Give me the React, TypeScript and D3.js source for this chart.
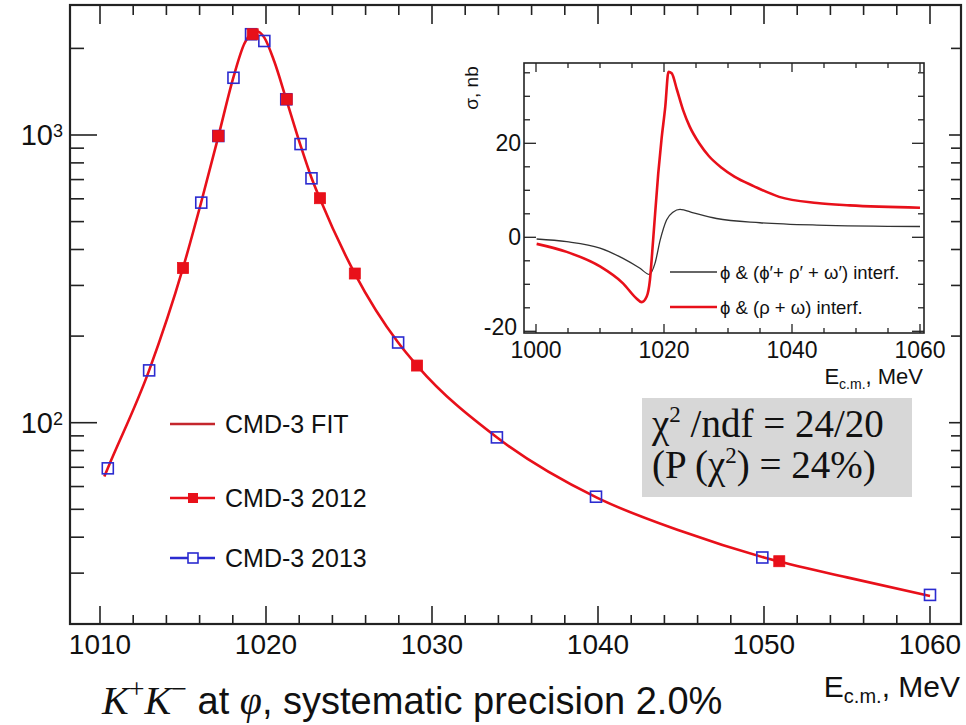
import React from 'react';
import * as d3 from 'd3';

const W = 966;
const H = 725;

// ---- Main panel: e+e- -> K+K- cross section near the phi, nb (log scale) ----
const fitEnergy = [1010.26, 1010.47, 1012.96, 1015.0, 1016.1, 1017.15, 1018.04, 1018.7, 1019.2, 1019.45, 1019.9, 1020.5, 1021.22, 1022.08, 1022.74, 1023.25, 1025.35, 1027.96, 1029.1, 1033.9, 1039.9, 1045.0, 1050.0, 1055.0, 1060.0];
const fitSigma = [65, 69.5, 152, 345, 585, 1000, 1590, 2080, 2270, 2295, 2180, 1800, 1330, 920, 710, 600, 330, 190, 158, 89, 55, 42, 34, 29, 25];

const energy2012 = [1015.0, 1017.13, 1019.2, 1021.25, 1023.25, 1025.35, 1029.1, 1050.92];
const sigma2012 = [345, 992, 2240, 1331, 603, 330, 158, 33.0];

const energy2013 = [1010.47, 1012.96, 1016.1, 1017.13, 1018.04, 1019.1, 1019.9, 1021.22, 1022.08, 1022.74, 1027.96, 1033.91, 1039.88, 1049.9, 1060.0];
const sigma2013 = [69.4, 152, 582, 992, 1581, 2240, 2122, 1331, 930, 707, 190, 88.9, 55.3, 34.0, 25.2];

const mainXTicks = [1010, 1020, 1030, 1040, 1050, 1060];
const mainYDecades = [2, 3];
const legendLabels = ['CMD-3 FIT', 'CMD-3 2012', 'CMD-3 2013'];

// ---- Inset: interference contributions, nb ----
const insetRedEnergy = [1000.1, 1004.8, 1010.0, 1013.6, 1015.7, 1016.5, 1017.3, 1017.8, 1018.3, 1019.1, 1019.6, 1020.2, 1020.7, 1021.2, 1022.0, 1023.0, 1024.0, 1025.5, 1027.0, 1029.0, 1031.0, 1034.0, 1038.0, 1043.9, 1049.0, 1060.0];
const insetRedSigma = [-1.4, -3.1, -6.2, -9.8, -13.0, -13.8, -12.6, -9.1, -0.6, 13.6, 20.7, 27.8, 35.2, 34.9, 31.5, 27.0, 23.6, 20.0, 17.3, 14.8, 12.9, 10.9, 8.6, 7.3, 6.8, 6.3];
const insetBlackEnergy = [1000.1, 1004.8, 1010.0, 1013.6, 1016.25, 1017.7, 1018.6, 1019.4, 1020.4, 1021.45, 1022.5, 1024.6, 1028.2, 1035.0, 1043.9, 1060.0];
const insetBlackSigma = [-0.36, -0.93, -2.3, -4.5, -6.6, -7.9, -5.5, -0.6, 3.7, 5.4, 5.96, 5.2, 4.0, 3.1, 2.6, 2.3];
const insetXTicks = [1000, 1020, 1040, 1060];
const insetYTicks = [-20, 0, 20];
const insetLegend = ['\u03D5 & (\u03D5\u2032+ \u03C1\u2032 + \u03C9\u2032) interf.', '\u03D5 & (\u03C1 + \u03C9) interf.'];

// ---- Layout ----
const frame = { left: 70, right: 961, top: 5, bottom: 624 };
const inset = { left: 524, right: 924, top: 63, bottom: 333 };
const SANS = '"Liberation Sans", Arial, Helvetica, sans-serif';
const SERIF = '"Liberation Serif", "Times New Roman", serif';
const INK = '#222';
const RED = '#e8101a';
const BLUE = '#2b2bd0';

export default function App() {
  const x = d3.scaleLinear().domain([1010, 1060]).range([100, 930]);
  const y = d3.scaleLog().domain([100, 1000]).range([422.7, 135]);

  const xi = d3.scaleLinear().domain([1000, 1060]).range([536, 920]);
  const yi = d3.scaleLinear().domain([0, 20]).range([237.3, 143.3]);

  const fitLine = d3
    .line<number>()
    .x((_, i) => x(fitEnergy[i]))
    .y((s) => y(s))
    .curve(d3.curveMonotoneX);

  const insetLine = (es: number[]) =>
    d3
      .line<number>()
      .x((_, i) => xi(es[i]))
      .y((s) => yi(s))
      .curve(d3.curveMonotoneX);

  // minor ticks
  const xMinor = d3.range(1010, 1061, 2).filter((v) => v % 10 !== 0);
  const yMinor: number[] = [];
  for (const d of [1, 2, 3]) {
    for (let m = 2; m <= 9; m++) {
      const v = m * Math.pow(10, d);
      if (y(v) >= frame.top && y(v) <= frame.bottom + 0.5) yMinor.push(v);
    }
  }
  const ixMinor = d3.range(1000, 1061, 5).filter((v) => v % 20 !== 0);
  const iyMinor = d3.range(-20, 36, 5).filter((v) => v % 20 !== 0);

  const sq = 11;
  const sqB = 11;

  return (
    <svg
      width={W}
      height={H}
      viewBox={`0 0 ${W} ${H}`}
      style={{ position: 'absolute', left: 0, top: 0, display: 'block', background: '#fff' }}
    >
      <rect x={0} y={0} width={W} height={H} fill="#fff" />

      {/* main frame */}
      <rect
        x={frame.left}
        y={frame.top}
        width={frame.right - frame.left}
        height={frame.bottom - frame.top}
        fill="none"
        stroke={INK}
        strokeWidth={2.2}
      />

      {/* x ticks, bottom and top */}
      <g stroke={INK} strokeWidth={1.6}>
        {mainXTicks.map((t) => (
          <g key={'mx' + t}>
            <line x1={x(t)} x2={x(t)} y1={frame.bottom} y2={frame.bottom - 18} />
            <line x1={x(t)} x2={x(t)} y1={frame.top} y2={frame.top + 19} />
          </g>
        ))}
        {xMinor.map((t) => (
          <g key={'mxm' + t}>
            <line x1={x(t)} x2={x(t)} y1={frame.bottom} y2={frame.bottom - 9} />
            <line x1={x(t)} x2={x(t)} y1={frame.top} y2={frame.top + 10} />
          </g>
        ))}
        {mainYDecades.map((d) => (
          <g key={'my' + d}>
            <line x1={frame.left} x2={frame.left + 27} y1={y(Math.pow(10, d))} y2={y(Math.pow(10, d))} />
            <line x1={frame.right} x2={frame.right - 12} y1={y(Math.pow(10, d))} y2={y(Math.pow(10, d))} />
          </g>
        ))}
        {yMinor.map((v) => (
          <g key={'mym' + v}>
            <line x1={frame.left} x2={frame.left + 14} y1={y(v)} y2={y(v)} />
            <line x1={frame.right} x2={frame.right - 10} y1={y(v)} y2={y(v)} />
          </g>
        ))}
      </g>

      {/* x tick labels */}
      <g fontFamily={SANS} fontSize={28} fill="#111" textAnchor="middle">
        {mainXTicks.map((t) => (
          <text key={'mxl' + t} x={x(t)} y={654}>
            {t}
          </text>
        ))}
      </g>
      {/* y tick labels */}
      <g fontFamily={SANS} fill="#111" textAnchor="end">
        {mainYDecades.map((d) => (
          <text key={'myl' + d} x={63} y={y(Math.pow(10, d)) + 10} fontSize={29}>
            10
            <tspan dy={-8} fontSize={18}>
              {d}
            </tspan>
          </text>
        ))}
      </g>

      {/* fit curve */}
      <path d={fitLine(fitSigma) || ''} fill="none" stroke={RED} strokeWidth={2.6} />

      {/* 2013 data: open blue squares */}
      <g fill="none" stroke={BLUE} strokeWidth={1.6}>
        {energy2013.map((e, i) => (
          <rect key={'b' + i} x={x(e) - sqB / 2} y={y(sigma2013[i]) - sqB / 2} width={sqB} height={sqB} />
        ))}
      </g>
      {/* 2012 data: filled red squares */}
      <g fill={RED} stroke={RED} strokeWidth={0.8}>
        {energy2012.map((e, i) => (
          <rect key={'r' + i} x={x(e) - sq / 2} y={y(sigma2012[i]) - sq / 2} width={sq} height={sq} />
        ))}
      </g>

      {/* legend */}
      <g fontFamily={SANS} fontSize={25} fill="#111">
        <line x1={170} x2={215} y1={424} y2={424} stroke="#c4262c" strokeWidth={2.6} />
        <text x={225} y={433}>{legendLabels[0]}</text>
        <line x1={170} x2={215} y1={498} y2={498} stroke={RED} strokeWidth={2.6} />
        <rect x={193 - 5} y={498 - 5} width={10} height={10} fill={RED} />
        <text x={225} y={507}>{legendLabels[1]}</text>
        <line x1={170} x2={215} y1={558} y2={558} stroke={BLUE} strokeWidth={2.6} />
        <rect x={193 - 5} y={558 - 5} width={10} height={10} fill="#fff" stroke={BLUE} strokeWidth={1.6} />
        <text x={225} y={567}>{legendLabels[2]}</text>
      </g>

      {/* chi2 box */}
      <rect x={642} y={398} width={270} height={99} fill="#d7d7d7" />
      <g fontFamily={SERIF} fontSize={39} fill="#111">
        <text x={652} y={437}>
          {'\u03C7'}
          <tspan dy={-15} fontSize={23}>
            2
          </tspan>
          <tspan dy={15}>{' /ndf = 24/20'}</tspan>
        </text>
        <text x={652} y={478}>
          {'(P (\u03C7'}
          <tspan dy={-15} fontSize={23}>
            2
          </tspan>
          <tspan dy={15}>{') = 24%)'}</tspan>
        </text>
      </g>

      {/* ---------------- inset ---------------- */}
      <rect
        x={inset.left}
        y={inset.top}
        width={inset.right - inset.left}
        height={inset.bottom - inset.top}
        fill="#fff"
        stroke={INK}
        strokeWidth={1.6}
      />
      <g stroke={INK} strokeWidth={1.3}>
        {insetXTicks.map((t) => (
          <g key={'ix' + t}>
            <line x1={xi(t)} x2={xi(t)} y1={inset.bottom} y2={inset.bottom - 9} />
            <line x1={xi(t)} x2={xi(t)} y1={inset.top} y2={inset.top + 9} />
          </g>
        ))}
        {ixMinor.map((t) => (
          <g key={'ixm' + t}>
            <line x1={xi(t)} x2={xi(t)} y1={inset.bottom} y2={inset.bottom - 5} />
            <line x1={xi(t)} x2={xi(t)} y1={inset.top} y2={inset.top + 5} />
          </g>
        ))}
        {insetYTicks.map((t) => (
          <g key={'iy' + t}>
            <line x1={inset.left} x2={inset.left + 12} y1={yi(t)} y2={yi(t)} />
            <line x1={inset.right} x2={inset.right - 12} y1={yi(t)} y2={yi(t)} />
          </g>
        ))}
        {iyMinor.map((t) => (
          <g key={'iym' + t}>
            <line x1={inset.left} x2={inset.left + 6} y1={yi(t)} y2={yi(t)} />
            <line x1={inset.right} x2={inset.right - 6} y1={yi(t)} y2={yi(t)} />
          </g>
        ))}
      </g>
      <g fontFamily={SANS} fontSize={23} fill="#111">
        {insetXTicks.map((t) => (
          <text key={'ixl' + t} x={xi(t)} y={358} textAnchor="middle">
            {t}
          </text>
        ))}
        {insetYTicks.map((t) => (
          <text key={'iyl' + t} x={t < 0 ? 517 : 521} y={yi(t) + (t < 0 ? 4 : 8)} textAnchor="end">
            {t}
          </text>
        ))}
      </g>
      <text
        transform={`translate(478, 88) rotate(-90)`}
        textAnchor="middle"
        fontFamily={SANS}
        fontSize={19}
        fill="#111"
      >
        {'\u03C3, nb'}
      </text>
      <text x={923} y={384} textAnchor="end" fontFamily={SANS} fontSize={22} fill="#111">
        E
        <tspan dy={5} fontSize={14}>
          c.m.
        </tspan>
        <tspan dy={-5}>{', MeV'}</tspan>
      </text>

      <path d={insetLine(insetBlackEnergy)(insetBlackSigma) || ''} fill="none" stroke="#333" strokeWidth={1.3} />
      <path d={insetLine(insetRedEnergy)(insetRedSigma) || ''} fill="none" stroke={RED} strokeWidth={2.6} />

      <g fontFamily={SANS} fontSize={18.5} fill="#111">
        <line x1={670} x2={717} y1={272} y2={272} stroke="#333" strokeWidth={1.3} />
        <text x={720} y={279}>{insetLegend[0]}</text>
        <line x1={670} x2={717} y1={307} y2={307} stroke={RED} strokeWidth={2.6} />
        <text x={720} y={314}>{insetLegend[1]}</text>
      </g>

      {/* axis title */}
      <text x={960} y={697} textAnchor="end" fontFamily={SANS} fontSize={30} fill="#111">
        E
        <tspan dy={6} fontSize={20}>
          c.m.
        </tspan>
        <tspan dy={-6}>{', MeV'}</tspan>
      </text>

      {/* caption */}
      <text x={102} y={714} fontSize={38} fill="#111">
        <tspan fontFamily={SERIF} fontStyle="italic" fontSize={40}>
          K
        </tspan>
        <tspan fontFamily={SERIF} fontSize={28} dy={-16}>
          +
        </tspan>
        <tspan fontFamily={SERIF} fontStyle="italic" fontSize={40} dy={16}>
          K
        </tspan>
        <tspan fontFamily={SERIF} fontSize={28} dy={-16}>
          {'\u2212'}
        </tspan>
        <tspan fontFamily={SANS} dy={16}>
          {' at '}
        </tspan>
        <tspan fontFamily={SERIF} fontStyle="italic" fontSize={40}>
          {'\u03C6'}
        </tspan>
        <tspan fontFamily={SANS}>{', systematic precision 2.0%'}</tspan>
      </text>
    </svg>
  );
}
